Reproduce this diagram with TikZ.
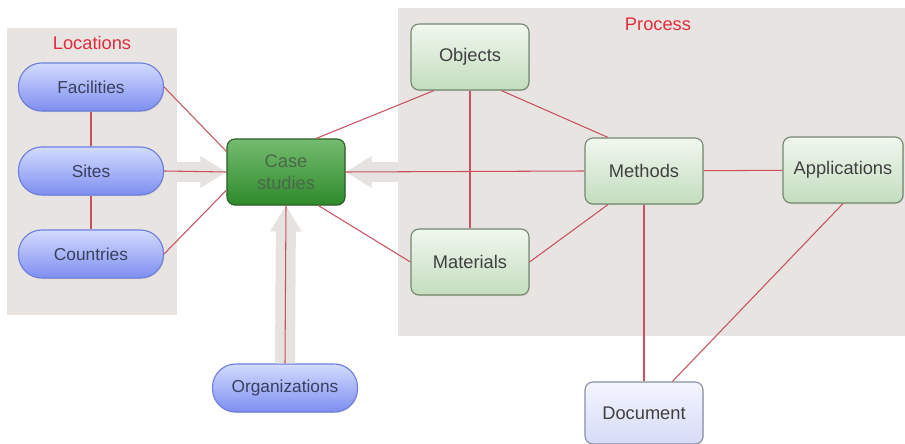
\documentclass[tikz,border=0pt]{standalone}
\usepackage{fontspec}
\setmainfont{Liberation Sans}
\usetikzlibrary{arrows.meta,shadows}

\definecolor{panelgray}{HTML}{E7E4E1}
\definecolor{arrowgray}{HTML}{E5E2DF}
\definecolor{linkred}{HTML}{C9525F}
\definecolor{titlered}{HTML}{E22C3E}
\definecolor{pilltop}{HTML}{D3DBFF}
\definecolor{pillbottom}{HTML}{7E8EF0}
\definecolor{pillborder}{HTML}{6E7EDC}
\definecolor{pilltext}{HTML}{39405E}
\definecolor{greentop}{HTML}{F1F7EF}
\definecolor{greenbottom}{HTML}{C3DDBE}
\definecolor{greenborder}{HTML}{73886F}
\definecolor{casetop}{HTML}{74BC70}
\definecolor{casebottom}{HTML}{2E8A2B}
\definecolor{caseborder}{HTML}{2B5F29}
\definecolor{casetext}{HTML}{4B684A}
\definecolor{doctop}{HTML}{F4F5FF}
\definecolor{docbottom}{HTML}{D6DBF6}
\definecolor{docborder}{HTML}{8890A6}

\tikzset{
  pill/.style={draw=pillborder, line width=0.8pt, rounded corners=0.58cm,
    minimum width=3.625cm, minimum height=1.2cm,
    top color=pilltop, bottom color=pillbottom, text=pilltext,
    font=\fontsize{12.3}{15}\selectfont,
    drop shadow={opacity=0.2, shadow xshift=0.6pt, shadow yshift=-0.8pt}},
  greenbox/.style={draw=greenborder, line width=0.8pt, rounded corners=0.2cm,
    minimum width=2.95cm, minimum height=1.65cm,
    top color=greentop, bottom color=greenbottom, text=black!75,
    font=\fontsize{13}{15.5}\selectfont,
    drop shadow={opacity=0.2, shadow xshift=0.6pt, shadow yshift=-0.8pt}},
  casebox/.style={greenbox, draw=caseborder, top color=casetop,
    bottom color=casebottom, text=casetext, align=center},
  docbox/.style={greenbox, draw=docborder, top color=doctop,
    bottom color=docbottom, minimum height=1.55cm},
  paneltitle/.style={text=titlered, font=\fontsize{13}{15}\selectfont},
  link/.style={draw=linkred, line width=0.75pt},
  bigarrow/.style={draw=arrowgray, line width=0.5cm,
    -{Triangle[length=0.65cm,width=0.75cm]}}
}

\begin{document}
\begin{tikzpicture}[x=0.025cm,y=-0.025cm]
  %%%%% START %%%%%
  \useasboundingbox (0,0) rectangle (905,444);

  % panels
  \fill[panelgray] (7,28) rectangle (177,315);
  \fill[panelgray] (398,8) rectangle (905,336);
  \coordinate (locedge) at (177,172);
  \coordinate (procedge) at (398,172);
  \node[paneltitle] (loctitle) at (92,43) {Locations};
  \node[paneltitle] (proctitle) at (658,24) {Process};

  % nodes
  \node[pill] (facilities) at (91,87) {Facilities};
  \node[pill] (sites) at (91,171) {Sites};
  \node[pill] (countries) at (91,254) {Countries};
  \node[pill] (orgs) at (285,388) {Organizations};

  \node[casebox] (case) at (286,172) {Case\\studies};

  \node[greenbox] (objects) at (470,57) {Objects};
  \node[greenbox] (materials) at (470,262) {Materials};
  \node[greenbox] (methods) at (644,171) {Methods};
  \node[greenbox, minimum width=3cm] (apps) at (843,170) {Applications};
  \node[docbox] (document) at (644,413) {Document};

  % big arrows
  \draw[bigarrow] (locedge) -- (case.west);
  \draw[bigarrow] (procedge) -- (case.east);
  \draw[bigarrow] (orgs.north) -- (case.south);

  % links
  \draw[link] (facilities) -- (sites);
  \draw[link] (sites) -- (countries);
  \draw[link] (facilities.east) -- (case.161);
  \draw[link] (sites.east) -- (case.west);
  \draw[link] (countries.east) -- (case.197);
  \draw[link] (orgs.north) -- (case.south);
  \draw[link] (case.48) -- (objects.223);
  \draw[link] (case.314) -- (materials.west);
  \draw[link] (case.east) -- (methods.west);
  \draw[link] (objects) -- (materials);
  \draw[link] (objects.313) -- (methods.137);
  \draw[link] (materials.east) -- (methods.223);
  \draw[link] (methods) -- (apps);
  \draw[link] (methods) -- (document);
  \draw[link] (apps.south) -- (document.48);

  %%%%% END %%%%%
\end{tikzpicture}
\end{document}
